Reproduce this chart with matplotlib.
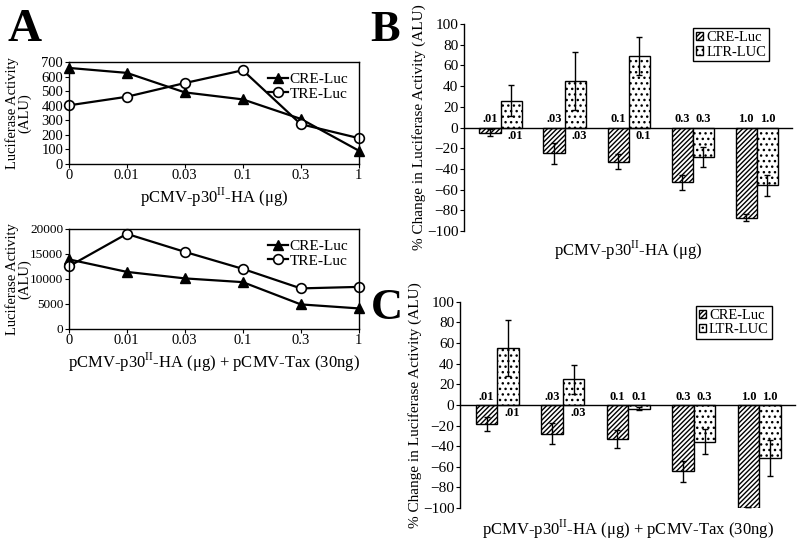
import matplotlib
matplotlib.use('Agg')
import matplotlib.pyplot as plt
import numpy as np

plt.rcParams['font.family'] = ['Liberation Serif', 'DejaVu Serif']
plt.rcParams['mathtext.fontset'] = 'custom'
plt.rcParams['mathtext.rm'] = 'Liberation Serif'
plt.rcParams['font.size'] = 11
plt.rcParams['hatch.linewidth'] = 1.0

# panel A data
doses = ['0', '0.01', '0.03', '0.1', '0.3', '1']
cre_a1 = [659, 625, 491, 443, 309, 91]
tre_a1 = [402, 461, 555, 643, 273, 177]
cre_a2 = [13900, 11400, 10100, 9350, 4900, 4100]
tre_a2 = [12500, 19000, 15400, 12000, 8100, 8400]

# panels B and C data (% change)
bar_labels = ['.01', '.03', '0.1', '0.3', '1.0']
cre_b = [-5, -25, -33, -53, -87]
cre_b_err = [3.5, 10, 7, 7, 3]
ltr_b = [26, 45, 69, -28.5, -56]
ltr_b_err = [15, 28, 18, 10, 10]
cre_c = [-18.5, -28, -33, -64.5, -100]
cre_c_err = [7, 10, 9, 10, 1]
ltr_c = [55.5, 25, -3.5, -35.5, -51.5]
ltr_c_err = [27, 14, 1.5, 12.5, 17]

xlab1 = r'pCMV-p30$^{\mathrm{II}}$-HA ($\mathrm{\mu}$g)'
xlab2 = r'pCMV-p30$^{\mathrm{II}}$-HA ($\mathrm{\mu}$g) + pCMV-Tax (30ng)'

fig = plt.figure(figsize=(8, 5.41), dpi=100)


def line_panel(rect, cre, tre, ylim, yticks, xlabel, ytick_size):
    ax = fig.add_axes(rect)
    x = np.arange(len(doses))
    ax.plot(x, cre, '-^', color='black', lw=1.6, ms=7, mfc='black', label='CRE-Luc')
    ax.plot(x, tre, '-o', color='black', lw=1.6, ms=7, mfc='white', mew=1.2, label='TRE-Luc')
    ax.set_xlim(0, len(doses) - 1)
    ax.set_ylim(*ylim)
    ax.set_yticks(yticks)
    ax.set_xticks(x)
    ax.set_xticklabels(doses)
    ax.tick_params(length=3, labelsize=10.5, pad=1)
    ax.tick_params(axis='y', labelsize=ytick_size)
    ax.set_xlabel(xlabel, fontsize=12, labelpad=2)
    ax.set_ylabel('Luciferase Activity\n(ALU)', fontsize=10.5, linespacing=0.85)
    ax.yaxis.set_label_coords(-0.13, 0.5)
    for s in ax.spines.values():
        s.set_linewidth(1.0)
    ax.legend(loc='upper right', frameon=False, fontsize=11, handlelength=1.3,
              handletextpad=0.1, labelspacing=0.05, borderaxespad=0.3)
    for p in ax.get_lines():
        p.set_clip_on(False)
    return ax


a1 = line_panel([0.086, 0.697, 0.3625, 0.1885], cre_a1, tre_a1, (0, 700),
                range(0, 701, 100), xlab1, 10.5)
a2 = line_panel([0.086, 0.392, 0.3625, 0.185], cre_a2, tre_a2, (0, 20000),
                range(0, 20001, 5000), xlab2, 9.5)


def bar_panel(rect, cre, cre_err, ltr, ltr_err, xlabel, xlab_y):
    ax = fig.add_axes(rect)
    x = np.arange(len(bar_labels))
    w = 0.33
    ax.bar(x - w / 2, cre, w, color='white', edgecolor='black', hatch='///////',
           lw=1.0, label='CRE-Luc', zorder=2)
    ax.bar(x + w / 2, ltr, w, color='white', edgecolor='black', hatch='...',
           lw=1.0, label='LTR-LUC', zorder=2)
    ax.errorbar(x - w / 2, cre, yerr=cre_err, fmt='none', ecolor='black',
                elinewidth=1.0, capsize=2, zorder=3)
    ax.errorbar(x + w / 2, ltr, yerr=ltr_err, fmt='none', ecolor='black',
                elinewidth=1.0, capsize=2, zorder=3)
    for i, lab in enumerate(bar_labels):
        ax.text(x[i] - w / 2, 2, lab, ha='center', va='bottom', fontsize=9,
                fontweight='bold')
        if ltr[i] > 0:
            ax.text(x[i] + w / 2 + 0.07, -2, lab, ha='center', va='top',
                    fontsize=9, fontweight='bold')
        else:
            ax.text(x[i] + w / 2, 2, lab, ha='center', va='bottom', fontsize=9,
                    fontweight='bold')
    ax.set_xlim(-0.57, 4.55)
    ax.set_ylim(-100, 100)
    ax.set_yticks(range(-100, 101, 20))
    ax.set_xticks([])
    ax.spines['top'].set_visible(False)
    ax.spines['right'].set_visible(False)
    ax.spines['bottom'].set_position(('data', 0))
    ax.spines['bottom'].set_linewidth(1.0)
    ax.spines['left'].set_linewidth(1.0)
    ax.tick_params(axis='y', length=3, labelsize=11, pad=1)
    ax.set_ylabel('% Change in Luciferase Activity (ALU)', fontsize=11, labelpad=1)
    ax.text(0.5, xlab_y, xlabel, transform=ax.transAxes, ha='center', va='top',
            fontsize=12)
    ax.legend(loc='upper right', bbox_to_anchor=(0.93, 0.98), fontsize=10.5,
              fancybox=False, edgecolor='black', framealpha=1, handlelength=0.5,
              handleheight=0.5, handletextpad=0.2, labelspacing=0.1,
              borderpad=0.2, borderaxespad=0)
    return ax


b = bar_panel([0.58, 0.573, 0.41, 0.3826], cre_b, cre_b_err, ltr_b, ltr_b_err,
              xlab1, -0.035)
c = bar_panel([0.575, 0.061, 0.419, 0.381], cre_c, cre_c_err, ltr_c, ltr_c_err,
              xlab2, -0.045)

fig.text(0.01, 0.925, 'A', fontsize=34, fontweight='bold')
fig.text(0.463, 0.925, 'B', fontsize=32, fontweight='bold')
fig.text(0.463, 0.41, 'C', fontsize=32, fontweight='bold')

fig.savefig('out.png', dpi=100)
